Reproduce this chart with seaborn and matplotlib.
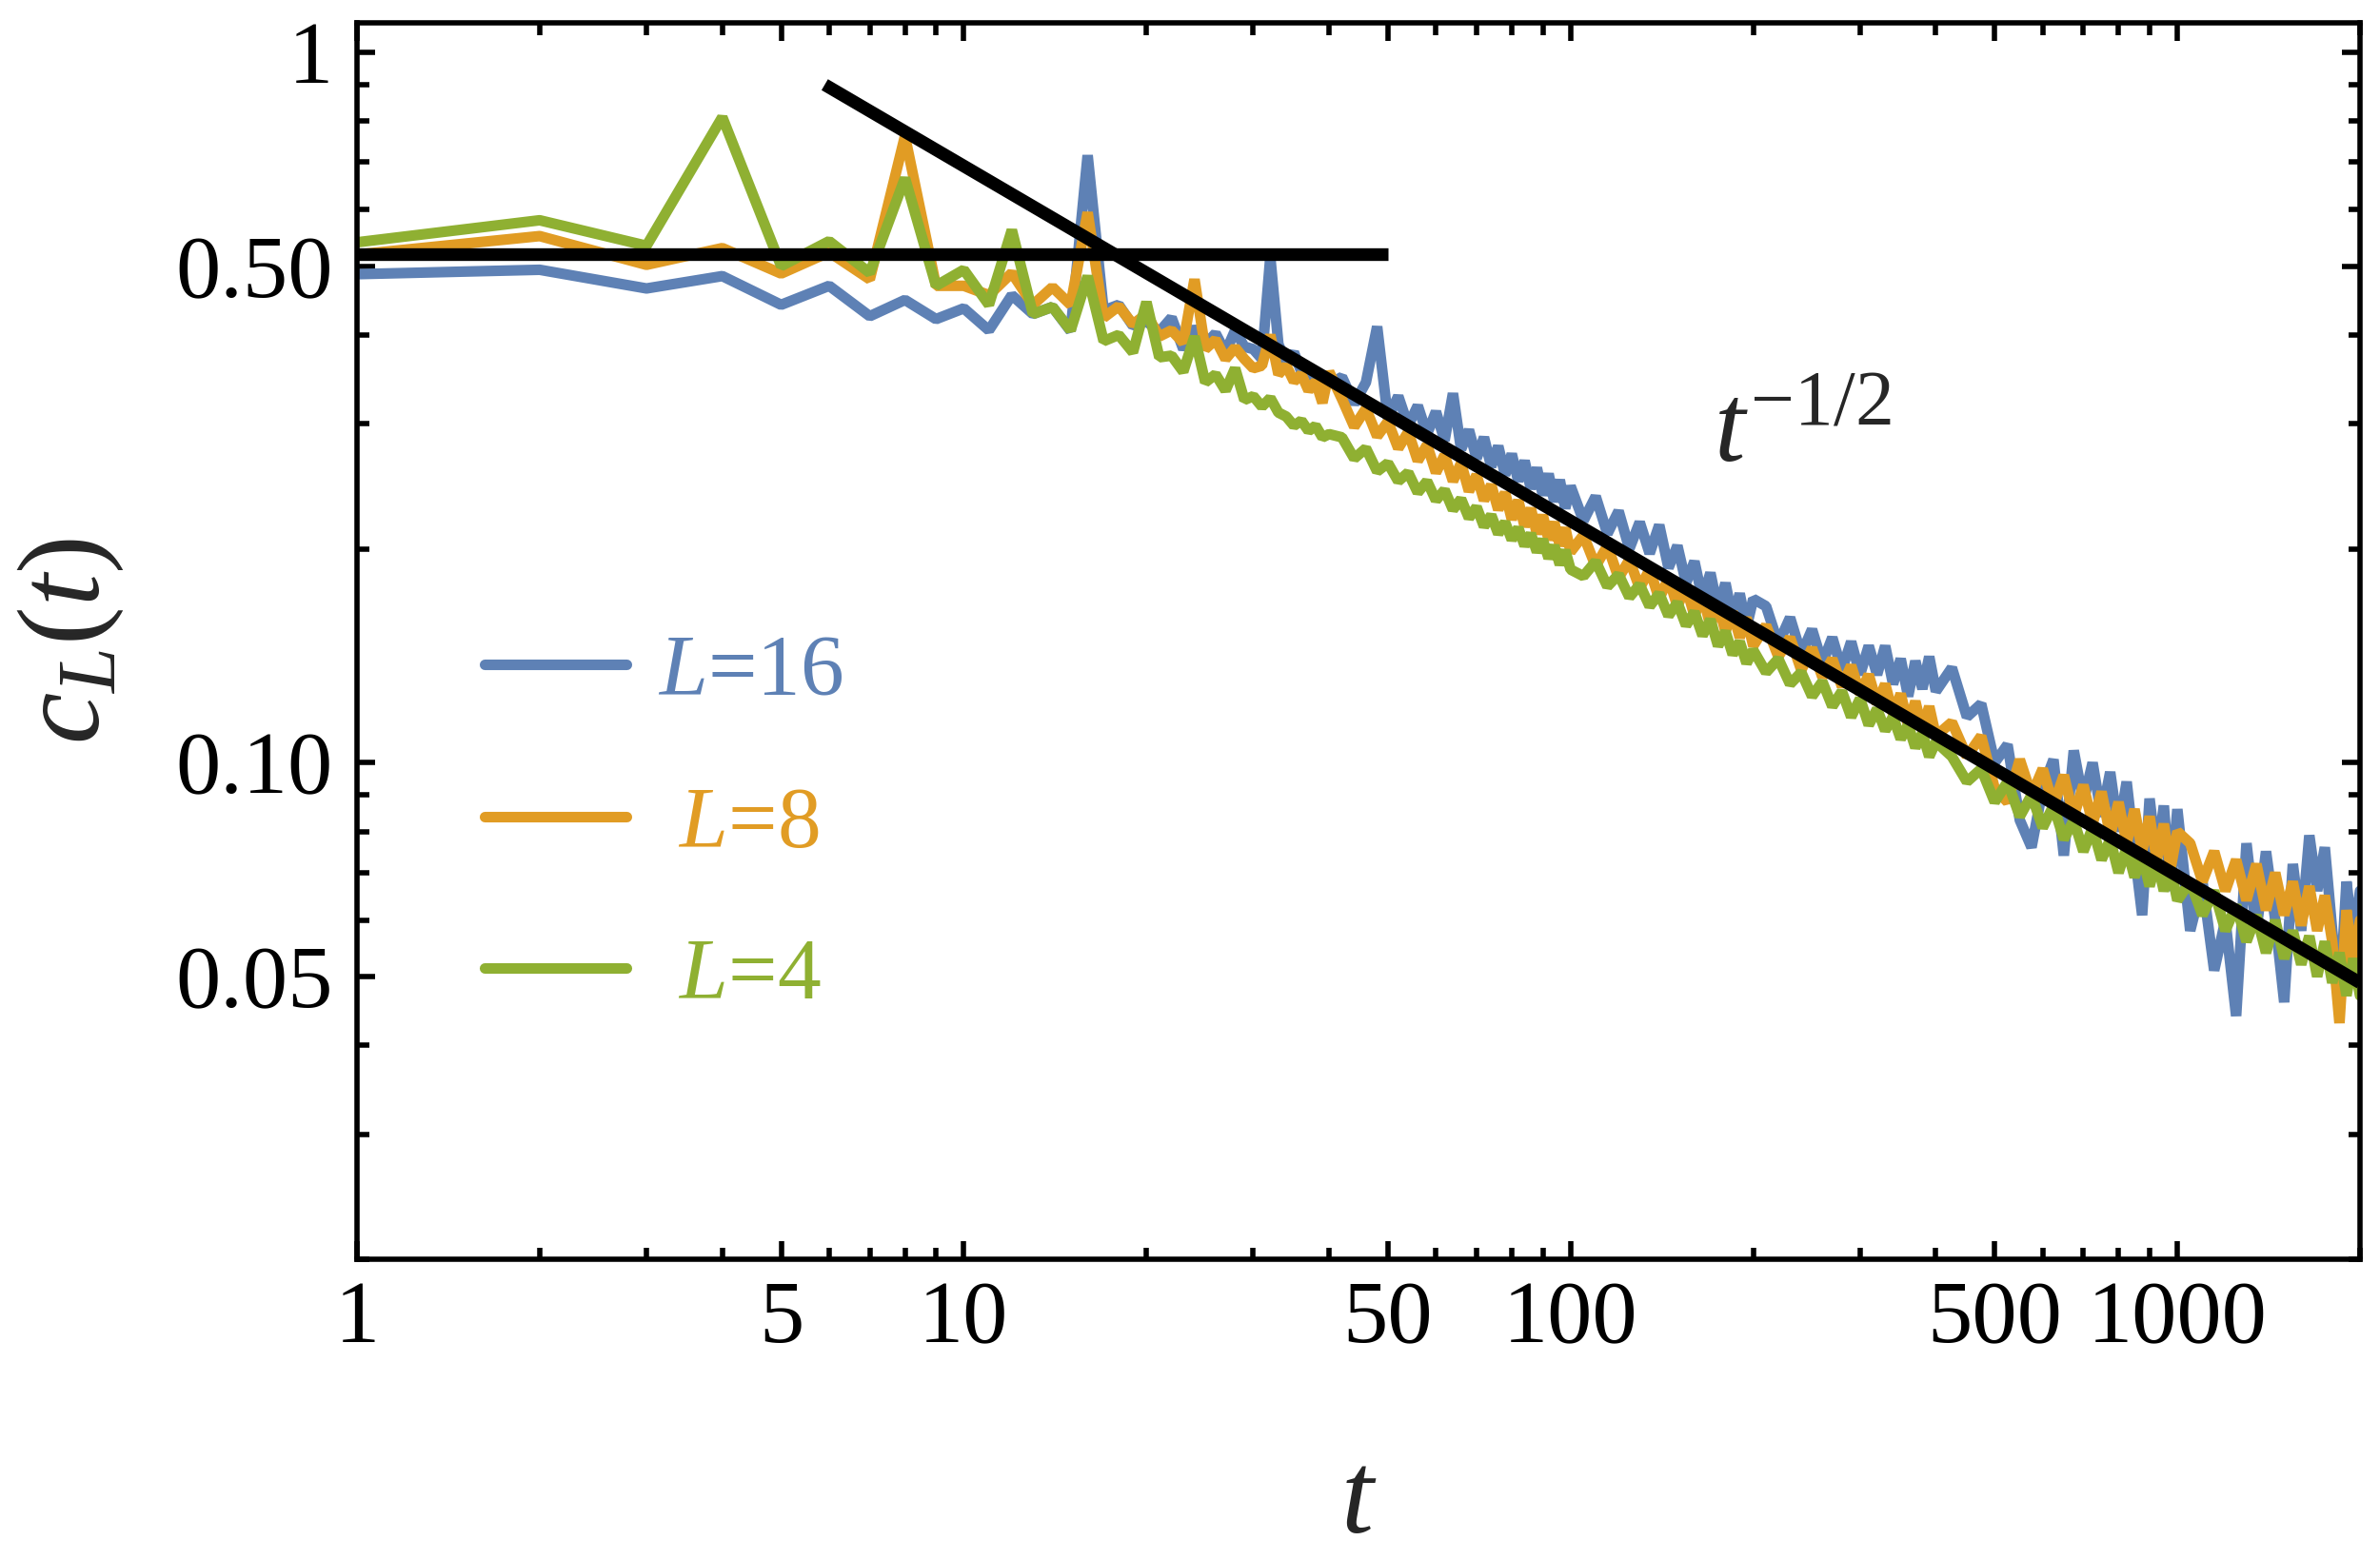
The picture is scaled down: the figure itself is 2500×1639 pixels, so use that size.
import numpy as np
import pandas as pd
import matplotlib
matplotlib.use('Agg')
import matplotlib.pyplot as plt
import seaborn as sns
from matplotlib.ticker import LogLocator, NullFormatter, FixedLocator, FixedFormatter

sns.set_style('ticks')
plt.rcParams['font.family'] = ['Liberation Serif', 'DejaVu Serif']
plt.rcParams['mathtext.fontset'] = 'custom'
plt.rcParams['mathtext.rm'] = 'Liberation Serif'
plt.rcParams['mathtext.it'] = 'Liberation Serif:italic'
plt.rcParams['mathtext.bf'] = 'Liberation Serif:bold'

# sample times (integer t, thinned out at late times)
t_steps = (list(range(1, 41)) + list(range(42, 101, 2)) + list(range(105, 201, 5))
           + list(range(210, 401, 10)) + list(range(425, 1001, 25)) + list(range(1050, 2001, 50)))

c_L16 = [
    0.487, 0.494, 0.465, 0.484, 0.441, 0.469, 0.425, 0.448, 0.421, 0.436,
    0.406, 0.455, 0.428, 0.438, 0.405, 0.716, 0.433, 0.441, 0.412, 0.418,
    0.404, 0.423, 0.382, 0.410, 0.388, 0.402, 0.378, 0.406, 0.385, 0.382,
    0.370, 0.515, 0.388, 0.366, 0.378, 0.355, 0.362, 0.344, 0.352, 0.341,
    # t = 42..100
    0.349, 0.320, 0.343, 0.411, 0.305, 0.328, 0.298, 0.318, 0.290, 0.312,
    0.284, 0.331, 0.276, 0.294, 0.268, 0.287, 0.261, 0.279, 0.254, 0.272,
    0.249, 0.266, 0.243, 0.260, 0.238, 0.255, 0.233, 0.250, 0.228, 0.245,
    # t = 105..200
    0.219, 0.237, 0.210, 0.226, 0.200, 0.218, 0.197, 0.216, 0.188, 0.202,
    0.179, 0.192, 0.170, 0.185, 0.164, 0.179, 0.159, 0.173, 0.155, 0.170,
    # t = 210..400
    0.166, 0.147, 0.160, 0.142, 0.154, 0.138, 0.150, 0.135, 0.148, 0.133,
    0.146, 0.133, 0.146, 0.129, 0.140, 0.124, 0.139, 0.127, 0.141, 0.126,
    # t = 425..1000
    0.136, 0.116, 0.121, 0.100, 0.106, 0.083, 0.076, 0.092, 0.101, 0.074,
    0.104, 0.088, 0.100, 0.084, 0.097, 0.080, 0.094, 0.075, 0.061, 0.089,
    0.073, 0.087, 0.066, 0.086,
    # t = 1050..2000
    0.058, 0.068, 0.051, 0.060, 0.044, 0.077, 0.058, 0.075, 0.060, 0.046,
    0.072, 0.058, 0.079, 0.066, 0.076, 0.058, 0.046, 0.068, 0.056, 0.066,
]

c_L8 = [
    0.519, 0.551, 0.502, 0.530, 0.488, 0.523, 0.479, 0.762, 0.469, 0.469,
    0.455, 0.489, 0.441, 0.467, 0.441, 0.595, 0.423, 0.439, 0.414, 0.428,
    0.398, 0.406, 0.390, 0.479, 0.382, 0.394, 0.370, 0.384, 0.370, 0.359,
    0.362, 0.400, 0.352, 0.362, 0.344, 0.352, 0.334, 0.344, 0.321, 0.355,
    0.325, 0.297, 0.315, 0.288, 0.302, 0.277, 0.292, 0.266, 0.280, 0.256,
    0.271, 0.249, 0.264, 0.241, 0.254, 0.234, 0.246, 0.227, 0.240, 0.220,
    0.234, 0.215, 0.228, 0.210, 0.223, 0.206, 0.218, 0.202, 0.214, 0.198,
    0.209, 0.189, 0.202, 0.182, 0.193, 0.176, 0.187, 0.170, 0.182, 0.166,
    0.177, 0.161, 0.172, 0.156, 0.167, 0.153, 0.163, 0.150, 0.160, 0.146,
    0.156, 0.141, 0.150, 0.135, 0.145, 0.132, 0.140, 0.128, 0.137, 0.125,
    0.133, 0.121, 0.129, 0.117, 0.125, 0.113, 0.122, 0.111, 0.120, 0.109,
    0.114, 0.102, 0.109, 0.092, 0.088, 0.101, 0.090, 0.098, 0.087, 0.096,
    0.084, 0.093, 0.082, 0.091, 0.079, 0.088, 0.077, 0.086, 0.075, 0.084,
    0.073, 0.082, 0.071, 0.080,
    0.077, 0.068, 0.075, 0.066, 0.073, 0.064, 0.072, 0.062, 0.070, 0.061,
    0.068, 0.059, 0.067, 0.058, 0.065, 0.056, 0.043, 0.062, 0.052, 0.060,
]

c_L4 = [
    0.540, 0.580, 0.534, 0.810, 0.500, 0.542, 0.489, 0.665, 0.469, 0.494,
    0.441, 0.562, 0.428, 0.438, 0.406, 0.484, 0.392, 0.400, 0.378, 0.445,
    0.372, 0.374, 0.355, 0.398, 0.343, 0.352, 0.334, 0.359, 0.324, 0.328,
    0.317, 0.326, 0.311, 0.307, 0.298, 0.303, 0.293, 0.298, 0.287, 0.290,
    0.287, 0.268, 0.277, 0.257, 0.264, 0.249, 0.256, 0.240, 0.249, 0.234,
    0.242, 0.227, 0.235, 0.221, 0.229, 0.215, 0.223, 0.210, 0.218, 0.206,
    0.214, 0.202, 0.210, 0.198, 0.206, 0.194, 0.202, 0.190, 0.199, 0.187,
    0.183, 0.192, 0.177, 0.184, 0.171, 0.178, 0.166, 0.173, 0.161, 0.168,
    0.156, 0.163, 0.151, 0.159, 0.146, 0.153, 0.142, 0.148, 0.138, 0.144,
    0.134, 0.140, 0.129, 0.134, 0.124, 0.130, 0.120, 0.126, 0.116, 0.123,
    0.113, 0.119, 0.111, 0.116, 0.108, 0.113, 0.105, 0.110, 0.102, 0.107,
    0.102, 0.094, 0.098, 0.088, 0.094, 0.084, 0.090, 0.081, 0.087, 0.078,
    0.083, 0.075, 0.081, 0.073, 0.078, 0.070, 0.076, 0.069, 0.074, 0.067,
    0.073, 0.066, 0.071, 0.064,
    0.068, 0.061, 0.066, 0.058, 0.063, 0.056, 0.061, 0.054, 0.060, 0.053,
    0.058, 0.052, 0.057, 0.050, 0.056, 0.049, 0.054, 0.047, 0.053, 0.047,
]

series_names = ['L=16', 'L=8', 'L=4']
legend_labels = ['$L$=16', ' $L$=8', ' $L$=4']
colors = ['#5E81B5', '#E19C24', '#8FB032']

# reference lines
plateau_t = [1, 50]
plateau_c = [0.519, 0.519]
power_t = [5.9, 2000]
power_c = [0.90, 0.049]

xticks = [1, 5, 10, 50, 100, 500, 1000]
xtick_labels = ['1', '5', '10', '50', '100', '500', '1000']
yticks = [0.05, 0.1, 0.5, 1]
ytick_labels = ['0.05', '0.10', '0.50', '1']

df = pd.DataFrame({
    't': t_steps * 3,
    'c': c_L16 + c_L8 + c_L4,
    'L': [n for n in series_names for _ in t_steps],
})

fig = plt.figure(figsize=(12.5, 8.195), dpi=200)
ax = fig.add_axes([0.15, 0.1928, 0.8416, 0.7926])

sns.lineplot(data=df, x='t', y='c', hue='L', hue_order=series_names,
             palette=colors, estimator=None, sort=False, lw=4.0,
             legend=False, ax=ax)
for line in ax.lines:
    line.set_solid_joinstyle('bevel')

ax.plot(plateau_t, plateau_c, color='black', lw=4.8, solid_capstyle='butt')
ax.plot(power_t, power_c, color='black', lw=4.8, solid_capstyle='butt')

ax.set_xscale('log')
ax.set_yscale('log')
ax.set_xlim(1, 2000)
ax.set_ylim(0.02, 1.1)

ax.xaxis.set_major_locator(FixedLocator(xticks))
ax.xaxis.set_major_formatter(FixedFormatter(xtick_labels))
ax.xaxis.set_minor_locator(LogLocator(base=10, subs=(2, 3, 4, 6, 7, 8, 9)))
ax.xaxis.set_minor_formatter(NullFormatter())
ax.yaxis.set_major_locator(FixedLocator(yticks))
ax.yaxis.set_major_formatter(FixedFormatter(ytick_labels))
ax.yaxis.set_minor_locator(LogLocator(base=10, subs=(2, 3, 4, 6, 7, 8, 9)))
ax.yaxis.set_minor_formatter(NullFormatter())

ax.tick_params(which='both', direction='in', top=True, right=True, width=2, colors='black')
ax.tick_params(which='major', length=7, labelsize=34)
ax.tick_params(which='minor', length=4.5)
ax.tick_params(axis='x', which='major', pad=8)
ax.tick_params(axis='y', which='major', pad=9)
for sp in ax.spines.values():
    sp.set_linewidth(2)
    sp.set_color('black')

ax.set_xlabel('$t$', fontsize=44)
ax.set_ylabel('$c_L(t)$', fontsize=44)
ax.xaxis.set_label_coords(0.5, -0.155)
ax.yaxis.set_label_coords(-0.1155, 0.5)

ax.text(172, 0.266, '$t^{-1/2}$', fontsize=42, va='baseline', ha='left')

handles = ax.lines[:3]
leg = ax.legend(handles, legend_labels, loc='center left', bbox_to_anchor=(0.0637, 0.351),
                frameon=False, fontsize=33, handlelength=1.62, handletextpad=0.37,
                labelspacing=0.83, borderpad=0, borderaxespad=0)
for txt, col in zip(leg.get_texts(), colors):
    txt.set_color(col)
for lh in leg.get_lines():
    lh.set_linewidth(4.0)

fig.savefig('out.png', dpi=200)
